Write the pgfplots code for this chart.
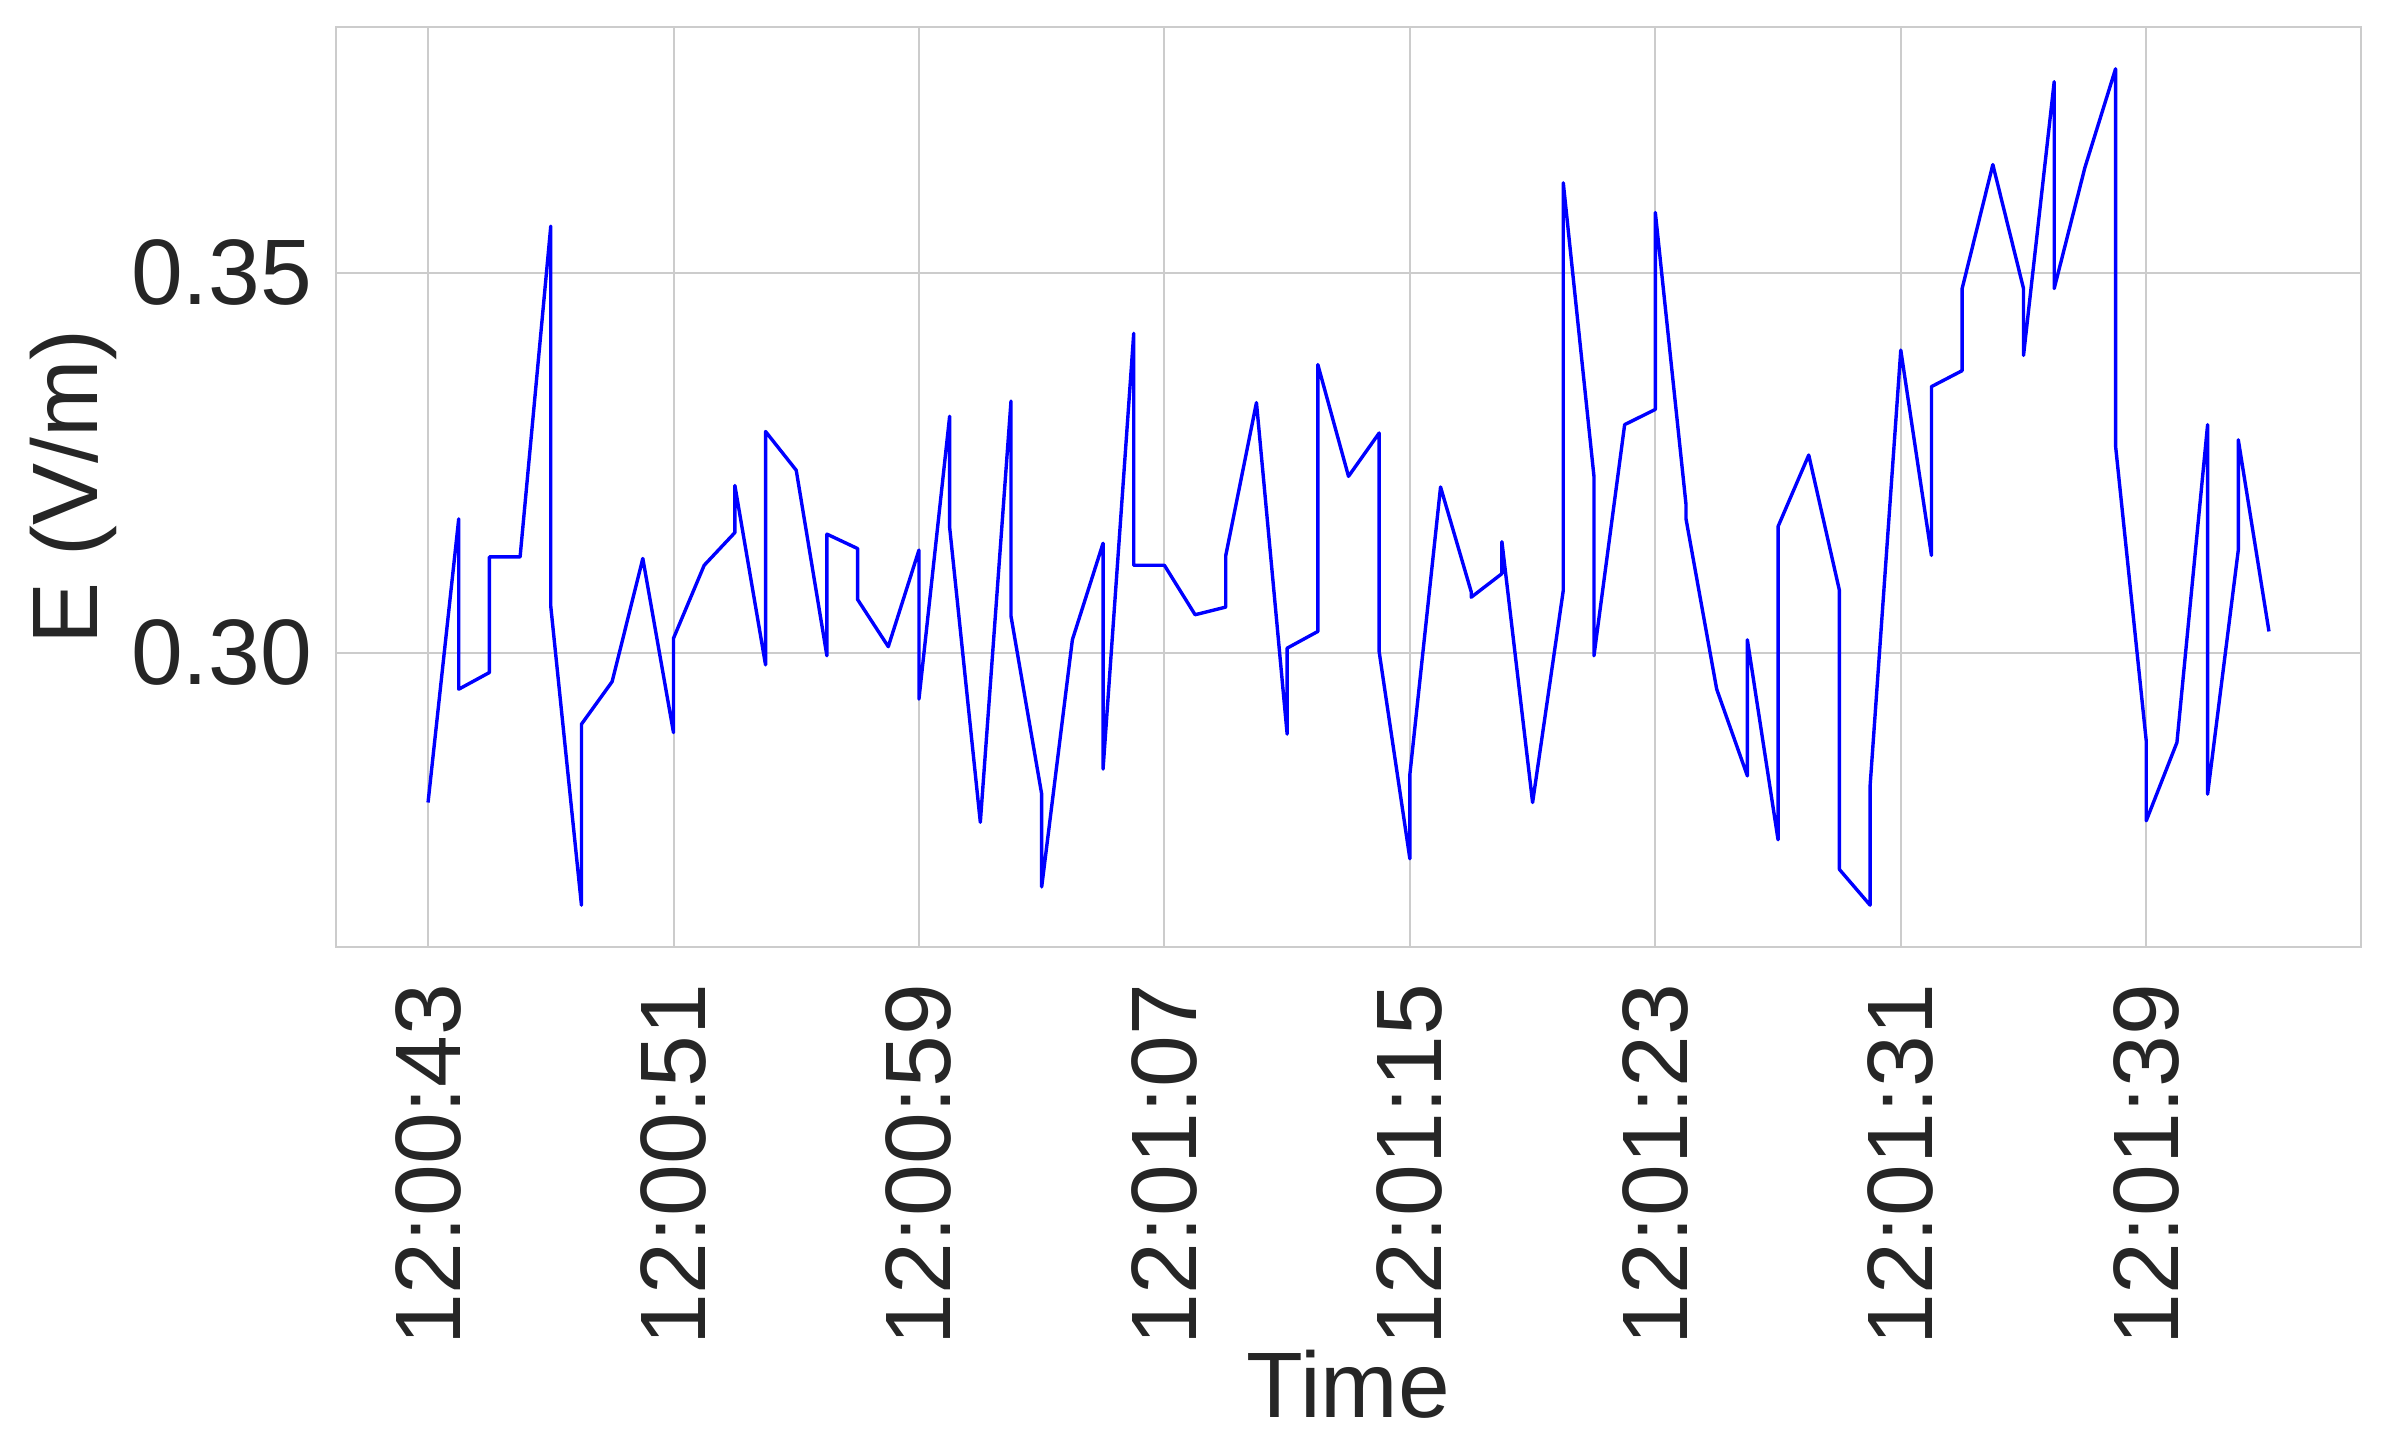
\documentclass[border=0pt]{standalone}
\usepackage{pgfplots}
\pgfplotsset{compat=1.18}
\usepackage{fontspec}
\setmainfont{Liberation Sans}
\definecolor{txt}{RGB}{38,38,38}
\definecolor{gridc}{RGB}{204,204,204}
\newcommand{\lbl}{\fontsize{23.25}{27.9}\selectfont}
\pgfplotstableread{
t v
0 0.2803
1 0.3176
1 0.2952
2 0.2974
2 0.3126
3 0.3126
4 0.3561
4 0.3061
5 0.2668
5 0.2906
6 0.2962
7 0.3124
8 0.2895
8 0.3019
9 0.3115
10 0.3158
10 0.3220
11 0.2984
11 0.3291
12 0.3240
13 0.2996
13 0.3156
14 0.3137
14 0.3070
15 0.3008
16 0.3135
16 0.2939
17 0.3311
17 0.3165
18 0.2777
19 0.3331
19 0.3048
20 0.2814
20 0.2692
21 0.3017
22 0.3144
22 0.2847
23 0.3420
23 0.3115
24 0.3115
25 0.3050
26 0.3060
26 0.3128
27 0.3329
28 0.2893
28 0.3006
29 0.3028
29 0.3379
30 0.3232
31 0.3289
31 0.3001
32 0.2729
32 0.2840
33 0.3218
34 0.3080
34 0.3073
35 0.3104
35 0.3146
36 0.2803
37 0.3082
37 0.3618
38 0.3232
38 0.2996
39 0.3300
40 0.3320
40 0.3579
41 0.3195
41 0.3176
42 0.2952
43 0.2838
43 0.3017
44 0.2754
44 0.3166
45 0.3260
46 0.3082
46 0.2715
47 0.2668
47 0.2825
48 0.3398
49 0.3128
49 0.3350
50 0.3371
50 0.3479
51 0.3642
52 0.3479
52 0.3391
53 0.3751
53 0.3479
54 0.3638
55 0.3768
55 0.3272
56 0.2884
56 0.2779
57 0.2882
58 0.3300
58 0.2814
59 0.3135
59 0.3280
60 0.3028
}\datatable
\begin{document}
\begin{tikzpicture}
\begin{axis}[
  at={(84pt,126.25pt)}, anchor=south west,
  width=506.25pt, height=230pt, scale only axis,
  xmin=-3, xmax=63, ymin=0.2613, ymax=0.3823,
  xtick={0,8,16,24,32,40,48,56},
  xticklabels={12:00:43,12:00:51,12:00:59,12:01:07,12:01:15,12:01:23,12:01:31,12:01:39},
  ytick={0.30,0.35},
  yticklabels={0.30,0.35},
  grid=major,
  major grid style={draw=gridc, line width=0.5pt},
  axis line style={draw=gridc, line width=0.6pt},
  major tick length=0pt,
  tick label style={font=\lbl, text=txt},
  xticklabel style={rotate=90, anchor=east, inner sep=0pt},
  yticklabel style={inner sep=0pt},
  xticklabel shift=9pt, yticklabel shift=5.75pt,
  xlabel={Time}, ylabel={E (V/m)},
  label style={font=\lbl, text=txt},
  xlabel style={at={(axis description cs:0.5,0)}, anchor=base, yshift=-117.75pt},
  ylabel style={at={(axis description cs:-0.1299,0.5)}, anchor=center},
]
\addplot[color=blue, line width=0.85pt, line join=round, mark=none] table[x=t, y=v] {\datatable};
\end{axis}
\pgfresetboundingbox
\useasboundingbox (0,0) rectangle (599pt,363pt);
\end{tikzpicture}
\end{document}
